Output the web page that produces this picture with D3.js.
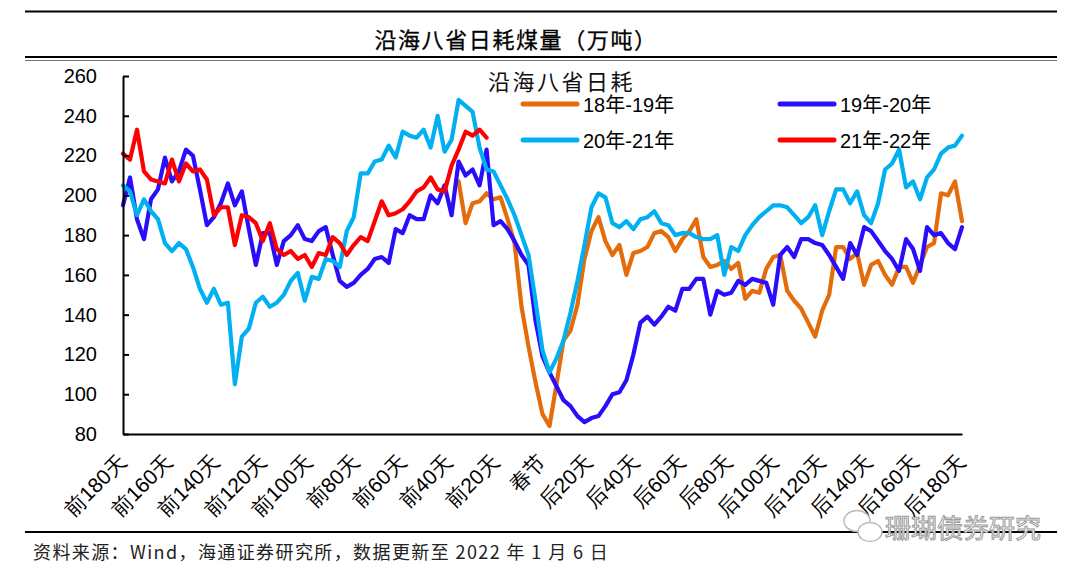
<!DOCTYPE html>
<html><head><meta charset="utf-8">
<script src="https://cdn.jsdelivr.net/npm/d3@7/dist/d3.min.js"></script>
<style>
body{margin:0;background:#fff;}
svg{display:block;font-family:"Liberation Sans","Noto Sans CJK SC",sans-serif;}
</style>
</head><body>
<svg id="c" width="1080" height="577"></svg>
<script>
// ---------- data ----------
const dayStep = 3;
const seriesNames = ["18年-19年", "19年-20年", "20年-21年", "21年-22年"];
const seriesColors = ["#E46C0A", "#2A0DFA", "#00B0F0", "#FF0000"];

// 18-19: starts 36 days before Spring Festival
const orangeStartDay = -36;
const orange = [207,186,196,197,201,198,199,188,176,144,124,106,90,84,105,127,132,145,168,182,
  189,177,170,175,160,171,172,174,181,182,179,172,178,182,188,169,164,165,167,163,
  166,148,152,151,163,169,170,152,147,143,136,129,142,150,174,174,168,171,155,165,
  167,160,155,164,164,156,165,174,176,201,200,207,187];

const blueStartDay = -180;
const blue = [195,209,188,178,198,203,219,207,212,223,220,203,185,189,196,206,195,202,183,165,
  181,181,165,177,180,185,178,177,182,184,170,157,154,156,160,163,168,169,166,183,
  181,190,188,188,200,196,205,190,217,210,213,205,223,185,187,183,177,170,165,137,
  119,111,104,97,94,89,86,88,89,94,100,101,107,120,136,139,135,139,144,142,
  153,153,158,158,140,152,150,151,157,155,158,157,156,145,170,174,169,178,178,176,
  175,170,164,158,176,170,184,182,177,172,168,162,178,173,162,184,180,181,176,173,184];

const cyanStartDay = -180;
const cyan = [205,202,190,198,192,188,176,172,176,173,164,153,146,153,145,146,105,129,133,146,
  149,144,146,150,157,161,147,159,158,168,167,164,182,189,211,211,217,218,225,219,
  232,230,229,233,224,240,222,228,248,245,242,224,213,212,205,198,190,180,170,147,
  122,111,118,127,141,157,175,194,201,199,186,184,187,183,188,189,192,186,185,180,
  181,181,179,178,178,180,160,174,172,180,185,189,192,195,195,194,190,186,189,195,
  180,192,203,203,196,202,190,186,196,213,216,223,204,207,198,209,213,221,224,225,230];

// 21-22: ends 24 days before Spring Festival
const redStartDay = -180;
const red = [221,218,233,212,208,207,206,218,207,216,212,213,208,190,194,194,175,190,189,186,
  177,186,173,170,172,168,170,164,171,170,179,176,170,175,179,177,187,197,190,191,
  193,197,202,204,209,203,202,215,223,232,230,233,229];

const xTickDays = [-180,-160,-140,-120,-100,-80,-60,-40,-20,0,20,40,60,80,100,120,140,160,180];
const xTickLabels = ["前180天","前160天","前140天","前120天","前100天","前80天","前60天","前40天","前20天","春节",
  "后20天","后40天","后60天","后80天","后100天","后120天","后140天","后160天","后180天"];
const yTicks = [80,100,120,140,160,180,200,220,240,260];

const titleText = "沿海八省日耗煤量（万吨）";
const legendTitle = "沿海八省日耗";
const sourceText = "资料来源：Wind，海通证券研究所，数据更新至 2022 年 1 月 6 日";
const watermarkText = "珊瑚债券研究";

// ---------- build ----------
const seriesData = [
  {name: seriesNames[0], color: seriesColors[0], start: orangeStartDay, values: orange},
  {name: seriesNames[1], color: seriesColors[1], start: blueStartDay, values: blue},
  {name: seriesNames[2], color: seriesColors[2], start: cyanStartDay, values: cyan},
  {name: seriesNames[3], color: seriesColors[3], start: redStartDay, values: red}
].map(s => ({...s, points: s.values.map((v, i) => ({day: s.start + i * dayStep, v}))}));

const svg = d3.select("#c");

// header rules and title
svg.append("line").attr("x1", 25).attr("x2", 1057).attr("y1", 11.5).attr("y2", 11.5)
  .attr("stroke", "#000").attr("stroke-width", 2.2);
svg.append("text").attr("x", 516).attr("y", 38)
  .attr("text-anchor", "middle").attr("dominant-baseline", "central")
  .style("font-family", '"Noto Sans CJK SC",sans-serif')
  .style("font-size", "22px").style("font-weight", "400").style("letter-spacing", "1.6px")
  .attr("fill", "#000").attr("stroke", "#000").attr("stroke-width", 0.3)
  .text(titleText);
svg.append("line").attr("x1", 25).attr("x2", 1057).attr("y1", 57).attr("y2", 57)
  .attr("stroke", "#000").attr("stroke-width", 2.2);
svg.append("line").attr("x1", 25).attr("x2", 1057).attr("y1", 60.5).attr("y2", 60.5)
  .attr("stroke", "#777").attr("stroke-width", 1);

// scales
const x = d3.scaleLinear().domain([-180, 180]).range([123, 962]);
const y = d3.scaleLinear().domain([80, 260]).range([434, 76]);

// lines
const line = d3.line().x(d => x(d.day)).y(d => y(d.v));
svg.append("g").selectAll("path").data(seriesData).join("path")
  .attr("d", d => line(d.points))
  .attr("fill", "none").attr("stroke", d => d.color)
  .attr("stroke-width", 4.2).attr("stroke-linejoin", "round").attr("stroke-linecap", "round");

// y axis
const yAxis = svg.append("g").attr("transform", "translate(123,0)")
  .call(d3.axisLeft(y).tickValues(yTicks).tickSize(-6).tickSizeOuter(0).tickPadding(26));
yAxis.select(".domain").attr("stroke", "#000").attr("stroke-width", 2);
yAxis.selectAll(".tick line").attr("stroke", "#000").attr("stroke-width", 2);
yAxis.selectAll(".tick text").style("font-size", "20px").attr("fill", "#000")
  .style("font-family", '"Liberation Sans",sans-serif');

// x axis
const xAxis = svg.append("g").attr("transform", "translate(0,434)")
  .call(d3.axisBottom(x).tickValues(xTickDays).tickSize(0).tickSizeOuter(0)
    .tickFormat((d, i) => xTickLabels[i]));
xAxis.select(".domain").attr("stroke", "#000").attr("stroke-width", 2);
xAxis.selectAll(".tick text")
  .attr("x", 0).attr("y", 0).attr("dy", "0.35em")
  .attr("text-anchor", "end")
  .attr("transform", "translate(-1,24) rotate(-45)")
  .style("font-size", "21px").attr("fill", "#000");

// legend
svg.append("text").attr("x", 488).attr("y", 80).attr("dominant-baseline", "central")
  .style("font-family", '"Noto Sans CJK SC",sans-serif').style("font-size", "22px")
  .style("letter-spacing", "2.5px").attr("fill", "#111").text(legendTitle);
const legendPos = [[523, 104], [780, 104], [523, 140], [780, 140]];
const lg = svg.append("g").selectAll("g").data(seriesData).join("g")
  .attr("transform", (d, i) => `translate(${legendPos[i][0]},${legendPos[i][1]})`);
lg.append("line").attr("x1", 0).attr("x2", 54).attr("y1", 0).attr("y2", 0)
  .attr("stroke", d => d.color).attr("stroke-width", 5).attr("stroke-linecap", "round");
lg.append("text").attr("x", 60).attr("y", 1).attr("dominant-baseline", "central")
  .style("font-size", "20px").attr("fill", "#000").text(d => d.name);

// footer
svg.append("line").attr("x1", 25).attr("x2", 1057).attr("y1", 532).attr("y2", 532)
  .attr("stroke", "#000").attr("stroke-width", 2);
svg.append("text").attr("x", 33).attr("y", 551).attr("dominant-baseline", "central")
  .style("font-family", '"Noto Sans CJK SC",sans-serif').style("font-size", "18px")
  .style("letter-spacing", "1.4px").attr("fill", "#222").text(sourceText);

// watermark
const wm = svg.append("g");
wm.append("ellipse").attr("cx", 857).attr("cy", 521).attr("rx", 13).attr("ry", 10.5)
  .attr("fill", "#fff").attr("stroke", "#bbb").attr("stroke-width", 1.5);
wm.append("ellipse").attr("cx", 870).attr("cy", 532).attr("rx", 12).attr("ry", 9.5)
  .attr("fill", "#fff").attr("stroke", "#bbb").attr("stroke-width", 1.5);
wm.append("text").attr("x", 885).attr("y", 526).attr("dominant-baseline", "central")
  .style("font-family", '"Noto Sans CJK SC",sans-serif').style("font-size", "26px")
  .attr("fill", "#fff").attr("stroke", "#999").attr("stroke-width", 1)
  .text(watermarkText);
</script>
</body></html>
